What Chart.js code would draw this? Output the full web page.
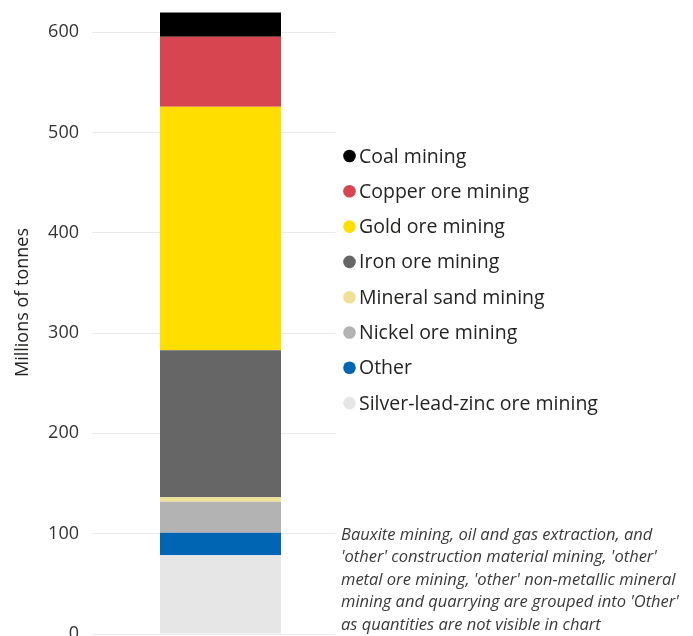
<!DOCTYPE html>
<html>
<head>
<meta charset="utf-8">
<script src="https://cdn.jsdelivr.net/npm/chart.js@4.4.1/dist/chart.umd.min.js"></script>
<style>
  html, body { margin: 0; padding: 0; background: #ffffff; overflow: hidden; }
  #wrap { position: relative; width: 693px; height: 650px; }
</style>
</head>
<body>
<div id="wrap"><canvas id="chart" width="693" height="650"></canvas></div>
<script>
// Mine output, millions of tonnes (single stacked column)
const categories = ['Total'];
const seriesNames = [
  'Coal mining',
  'Copper ore mining',
  'Gold ore mining',
  'Iron ore mining',
  'Mineral sand mining',
  'Nickel ore mining',
  'Other',
  'Silver-lead-zinc ore mining'
];
const seriesValues = [
  [24.3],   // Coal mining
  [69.6],   // Copper ore mining
  [242.9],  // Gold ore mining
  [146.6],  // Iron ore mining
  [4.3],    // Mineral sand mining
  [30.9],   // Nickel ore mining
  [22.6],   // Other
  [78.4]    // Silver-lead-zinc ore mining
];
const seriesColors = [
  '#000000', '#D64550', '#FFDE00', '#666666',
  '#F0E199', '#B3B3B3', '#0066B4', '#E6E6E6'
];
// stacking order from the bottom up
const stackOrder = [7, 6, 5, 4, 3, 2, 1, 0];
const yTicks = [0, 100, 200, 300, 400, 500, 600];
const yTitle = 'Millions of tonnes';
const noteLines = [
  'Bauxite mining, oil and gas extraction, and',
  "'other' construction material mining, 'other'",
  "metal ore mining, 'other' non-metallic mineral",
  "mining and quarrying are grouped into 'Other'",
  'as quantities are not visible in chart'
];

const FONT = "'Open Sans', 'Noto Sans', sans-serif";
const TEXT = '#252423';
const GRID_END = 335.5;   // gridlines stop short of the legend column

const datasets = stackOrder.map(i => ({
  label: seriesNames[i],
  data: seriesValues[i],
  backgroundColor: seriesColors[i],
  borderWidth: 0,
  barPercentage: 0.4708,
  categoryPercentage: 1.0
}));

// Trim the gridlines on the right before the bars are painted
const gridTrim = {
  id: 'gridTrim',
  beforeDatasetsDraw(chart) {
    const { ctx, chartArea } = chart;
    ctx.save();
    ctx.fillStyle = '#ffffff';
    ctx.fillRect(GRID_END, chartArea.top - 1, chartArea.right - GRID_END + 1, chartArea.bottom - chartArea.top + 2);
    ctx.restore();
  }
};

// Axis title, legend and footnote drawn around the plot area
const sideText = {
  id: 'sideText',
  afterDraw(chart) {
    const ctx = chart.ctx;
    ctx.save();
    ctx.textBaseline = 'middle';
    ctx.textAlign = 'center';
    ctx.fillStyle = TEXT;
    ctx.font = '18px ' + FONT;
    ctx.translate(23, 302.5);
    ctx.rotate(-Math.PI / 2);
    ctx.fillText(yTitle, 0, 0);
    ctx.restore();

    ctx.save();
    ctx.textBaseline = 'middle';
    ctx.textAlign = 'left';
    ctx.font = '19.5px ' + FONT;
    seriesNames.forEach((name, i) => {
      const y = 156 + i * 35.3;
      ctx.fillStyle = seriesColors[i];
      ctx.beginPath();
      ctx.arc(349.5, y, 6.3, 0, Math.PI * 2);
      ctx.fill();
      ctx.fillStyle = TEXT;
      ctx.fillText(name, 359, y + 1);
    });
    ctx.font = 'italic 16.5px ' + FONT;
    ctx.fillStyle = '#3a3a3a';
    noteLines.forEach((line, i) => {
      ctx.fillText(line, 341, 535 + i * 22.5);
    });
    ctx.restore();
  }
};

new Chart(document.getElementById('chart'), {
  type: 'bar',
  data: { labels: categories, datasets },
  options: {
    responsive: false,
    animation: false,
    devicePixelRatio: 1,
    layout: { padding: { left: 0, right: 344, top: 2, bottom: 16 } },
    plugins: {
      legend: { display: false },
      tooltip: { enabled: false }
    },
    scales: {
      x: {
        stacked: true,
        display: false
      },
      y: {
        stacked: true,
        min: 0,
        max: 630,
        afterBuildTicks(scale) {
          scale.ticks = yTicks.map(v => ({ value: v }));
        },
        afterFit(scale) {
          scale.width = 92;
          scale.paddingTop = 0;
          scale.paddingBottom = 0;
        },
        border: { display: false },
        grid: { color: '#EAEAEA', lineWidth: 1, drawTicks: false },
        ticks: {
          padding: 13,
          color: '#333333',
          font: { family: FONT, size: 18 }
        }
      }
    }
  },
  plugins: [gridTrim, sideText]
});
</script>
</body>
</html>
